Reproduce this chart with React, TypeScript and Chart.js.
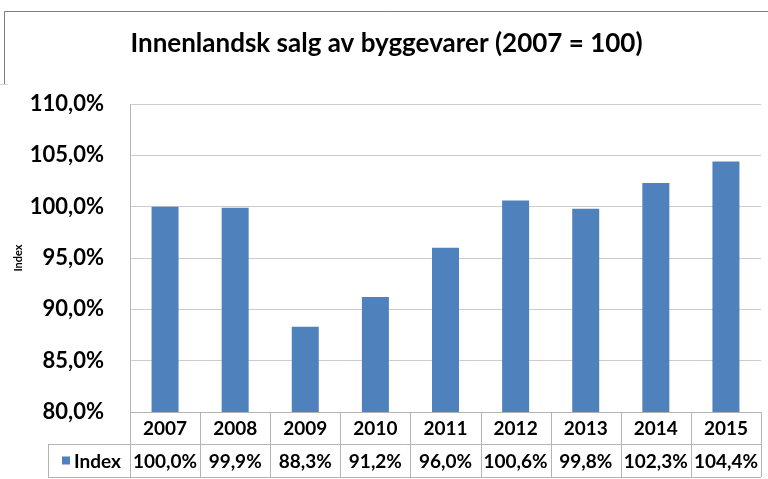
import React, { useEffect, useRef } from "react";
import { Chart, registerables } from "chart.js";

Chart.register(...registerables);

const titleText = "Innenlandsk salg av byggevarer (2007 = 100)";
const categories = ["2007", "2008", "2009", "2010", "2011", "2012", "2013", "2014", "2015"];
const indexValues = [1.0, 0.999, 0.883, 0.912, 0.96, 1.006, 0.998, 1.023, 1.044];
const seriesLabel = "Index";
const yAxisTitle = "Index";
const yMin = 0.8;
const yMax = 1.1;
const yStep = 0.05;

const BAR_COLOR = "#4F81BD";
const LINE_COLOR = "#b4b4b4";
const FONT = "Lato, 'Noto Sans', sans-serif";

const fmt = (v: number) => (v * 100).toFixed(1).replace(".", ",") + "%";

const framePlugin = {
  id: "frameAndTable",
  beforeDraw(chart: any) {
    const ctx = chart.ctx;
    ctx.save();
    ctx.fillStyle = "#ffffff";
    ctx.fillRect(0, 0, chart.width, chart.height);
    ctx.strokeStyle = "#7f7f7f";
    ctx.lineWidth = 1;
    ctx.beginPath();
    ctx.moveTo(4.5, 84);
    ctx.lineTo(4.5, 11.5);
    ctx.lineTo(chart.width, 11.5);
    ctx.stroke();
    ctx.strokeStyle = "#d8d8d8";
    ctx.beginPath();
    ctx.moveTo(0, 84.5);
    ctx.lineTo(8, 84.5);
    ctx.stroke();
    ctx.restore();
  },
  afterDraw(chart: any) {
    const ctx = chart.ctx;
    const area = chart.chartArea;
    const xs = chart.scales.x;
    const n = categories.length;
    const colW = (area.right - area.left) / n;
    const top = area.bottom;
    const mid = top + 32;
    const bottom = top + 65;
    const legendLeft = 48;
    ctx.save();
    ctx.strokeStyle = LINE_COLOR;
    ctx.lineWidth = 1;
    ctx.beginPath();
    ctx.moveTo(area.left, Math.round(top) + 0.5);
    ctx.lineTo(area.right, Math.round(top) + 0.5);
    ctx.moveTo(legendLeft, Math.round(mid) + 0.5);
    ctx.lineTo(area.right, Math.round(mid) + 0.5);
    ctx.moveTo(legendLeft, Math.round(bottom) + 0.5);
    ctx.lineTo(area.right, Math.round(bottom) + 0.5);
    for (let i = 0; i <= n; i++) {
      const xx = Math.round(area.left + i * colW) + 0.5;
      ctx.moveTo(xx, top);
      ctx.lineTo(xx, bottom);
    }
    ctx.moveTo(legendLeft + 0.5, mid);
    ctx.lineTo(legendLeft + 0.5, bottom);
    ctx.stroke();

    ctx.fillStyle = "#000000";
    ctx.font = `bold 19px ${FONT}`;
    ctx.textAlign = "center";
    ctx.textBaseline = "middle";
    const yearY = (top + mid) / 2 + 1;
    const valY = (mid + bottom) / 2 + 1;
    categories.forEach((c, i) => {
      const cx = xs.getPixelForValue(i);
      ctx.fillText(c, cx, yearY);
      ctx.fillText(fmt(indexValues[i]), cx, valY);
    });
    ctx.fillStyle = BAR_COLOR;
    ctx.fillRect(62, valY - 5, 8, 8);
    ctx.fillStyle = "#000000";
    ctx.textAlign = "left";
    ctx.fillText(seriesLabel, 74, valY);
    ctx.restore();
  },
};

export default function App() {
  const ref = useRef<HTMLCanvasElement | null>(null);
  useEffect(() => {
    if (!ref.current) return;
    const chart = new Chart(ref.current, {
      type: "bar",
      data: {
        labels: categories,
        datasets: [
          {
            label: seriesLabel,
            data: indexValues,
            backgroundColor: BAR_COLOR,
            borderWidth: 0,
            categoryPercentage: 1,
            barPercentage: 0.385,
          },
        ],
      },
      options: {
        animation: false,
        responsive: false,
        devicePixelRatio: 1,
        layout: { padding: { left: 12, right: 7, top: 0, bottom: 0 } },
        plugins: {
          legend: { display: false },
          tooltip: { enabled: false },
          title: {
            display: true,
            text: titleText,
            color: "#000000",
            font: { family: FONT, size: 26, weight: "bold", lineHeight: 1.2 },
            padding: { top: 28.4, bottom: 44.4 },
          },
        },
        scales: {
          x: {
            ticks: { display: false },
            grid: { display: false },
            border: { display: false },
            afterFit: (s: any) => {
              s.height = 67;
            },
          },
          y: {
            min: yMin,
            max: yMax,
            ticks: {
              stepSize: yStep,
              color: "#000000",
              padding: 26,
              font: { family: FONT, size: 22, weight: "bold" },
              callback: (v: any) => fmt(Number(v)),
            },
            grid: { color: "#cccccc", drawTicks: false },
            border: { color: LINE_COLOR },
            title: {
              display: true,
              text: yAxisTitle,
              color: "#000000",
              font: { family: FONT, size: 11, weight: "bold" },
              padding: { top: 0, bottom: 0 },
            },
            afterFit: (s: any) => {
              s.width = 118;
            },
          },
        },
      },
      plugins: [framePlugin],
    } as any);
    return () => chart.destroy();
  }, []);
  return (
    <div style={{ position: "absolute", left: 0, top: 0, width: 768, height: 479, background: "#fff" }}>
      <canvas ref={ref} width={768} height={479} />
    </div>
  );
}
